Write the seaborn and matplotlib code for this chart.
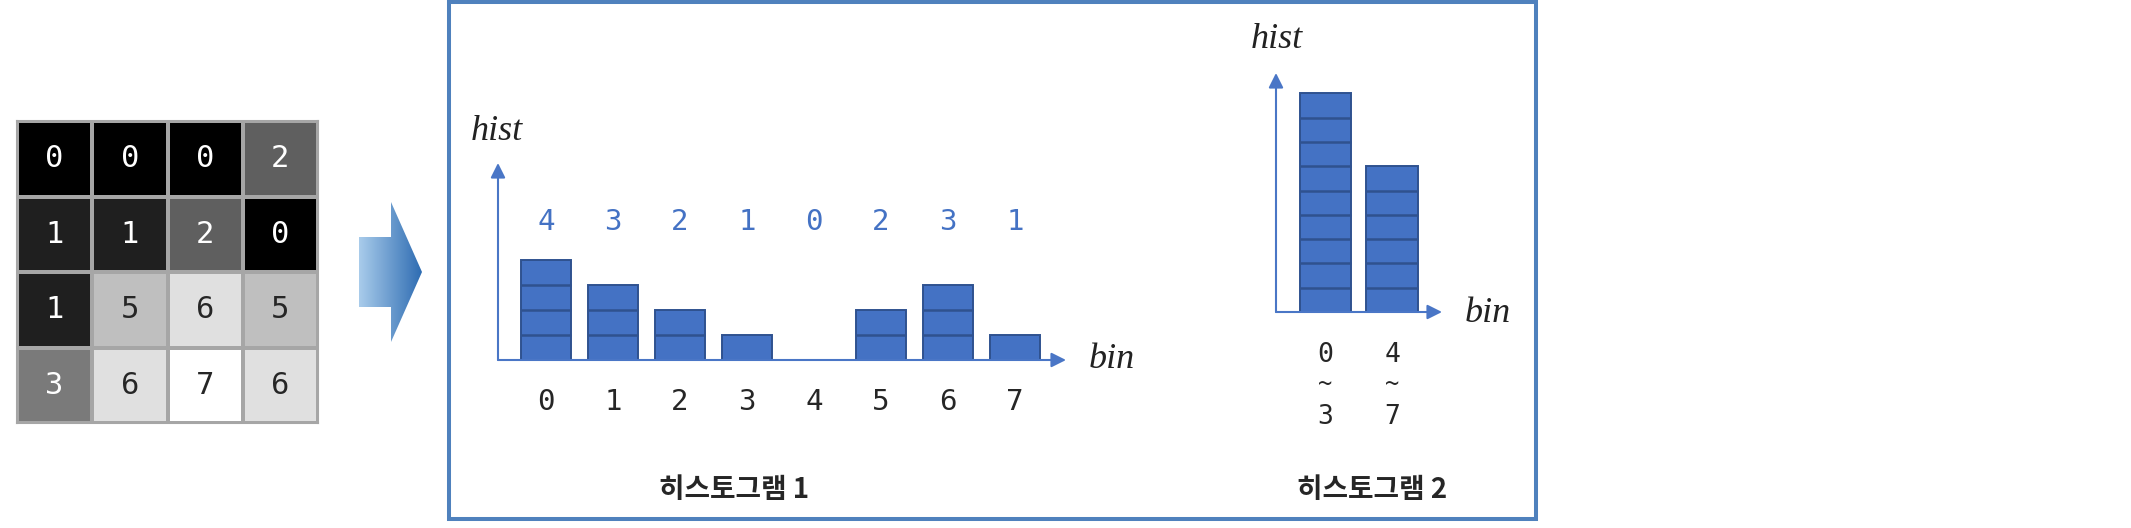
import numpy as np
import pandas as pd
import seaborn as sns
import matplotlib.pyplot as plt
from matplotlib.colors import ListedColormap, LinearSegmentedColormap
from matplotlib.patches import Polygon, Rectangle

# 4x4 image (pixel values 0..7)
pixels = [[0, 0, 0, 2],
          [1, 1, 2, 0],
          [1, 5, 6, 5],
          [3, 6, 7, 6]]
gray_levels = ["#000000", "#1f1f1f", "#5f5f5f", "#7a7a7a",
               "#a0a0a0", "#bfbfbf", "#e0e0e0", "#ffffff"]

# histogram 1 : one bin per value
bins1 = ["0", "1", "2", "3", "4", "5", "6", "7"]
hist1 = [4, 3, 2, 1, 0, 2, 3, 1]

# histogram 2 : two bins (as drawn)
bins2 = ["0~3", "4~7"]
hist2 = [9, 6]

titles = ["히스토그램 1", "히스토그램 2"]

BAR = "#4472c4"
EDGE = "#2f528f"
AXIS = "#4a76c6"
MONO = "DejaVu Sans Mono"
KR = ["Noto Sans CJK KR", "DejaVu Sans"]

W, H = 2131, 528
sns.set_style("white")
fig = plt.figure(figsize=(W / 100, H / 100), dpi=100)


def px_axes(x0, y0, x1, y1):
    return fig.add_axes([x0 / W, 1 - y1 / H, (x1 - x0) / W, (y1 - y0) / H])


# background layer in pixel coords: frame, block arrow, captions
bg = fig.add_axes([0, 0, 1, 1])
bg.add_patch(Rectangle((449, 2), 1086.5, 517, fill=False, ec="#4f81bd", lw=2.9))
arrow = Polygon([(359, 237), (391, 237), (391, 202), (422, 272),
                 (391, 342), (391, 307), (359, 307)], fc="none", ec="none")
bg.add_patch(arrow)
grad = np.linspace(0, 1, 256).reshape(1, -1)
blues = LinearSegmentedColormap.from_list("arr", ["#a9cceb", "#2e6cb2"])
im = bg.imshow(grad, extent=(359, 422, 342, 202), cmap=blues, aspect="auto")
im.set_clip_path(arrow)
bg.set_xlim(0, W)
bg.set_ylim(H, 0)
bg.axis("off")

serif_it = dict(family="Liberation Serif", style="italic", fontsize=26,
                color="#222222", ha="center", va="center")
bg.text(497, 132, "hist", **serif_it)
bg.text(1112, 360, "bin", **serif_it)
bg.text(1277, 40, "hist", **serif_it)
bg.text(1488, 314, "bin", **serif_it)
bg.text(734, 490, titles[0], family=KR, fontweight="bold", fontsize=20,
        ha="center", va="center")
bg.text(1372, 490, titles[1], family=KR, fontweight="bold", fontsize=20,
        ha="center", va="center")

# image grid
ax0 = px_axes(17, 121, 318, 423)
sns.heatmap(pixels, cmap=ListedColormap(gray_levels), vmin=-0.5, vmax=7.5,
            annot=True, fmt="d", cbar=False, linewidths=1.5, linecolor="#a6a6a6",
            annot_kws=dict(fontsize=22, family=MONO),
            xticklabels=False, yticklabels=False, ax=ax0)
for sp in ax0.spines.values():
    sp.set_visible(True)
    sp.set_color("#a6a6a6")
    sp.set_linewidth(1.5)


def draw_hist(ax, bins, counts, xlim, ylim, width):
    df = pd.DataFrame({"bin": bins, "count": counts})
    sns.barplot(data=df, x="bin", y="count", color=BAR, saturation=1,
                width=width, edgecolor=EDGE, linewidth=1.4, ax=ax)
    for i, c in enumerate(counts):
        if c > 1:
            ax.hlines(range(1, c), i - width / 2, i + width / 2, color=EDGE, lw=1.8)
    ax.set_xlim(*xlim)
    ax.set_ylim(*ylim)
    ax.axis("off")
    arr = dict(arrowstyle="-|>", color=AXIS, lw=1.5, mutation_scale=22,
               shrinkA=0, shrinkB=0)
    ax.annotate("", xy=(xlim[1], 0), xytext=(xlim[0], 0), arrowprops=arr,
                annotation_clip=False, zorder=5)
    ax.annotate("", xy=(xlim[0], ylim[1]), xytext=(xlim[0], 0), arrowprops=arr,
                annotation_clip=False, zorder=5)


# histogram 1
ax1 = px_axes(498, 163, 1066, 360)
draw_hist(ax1, bins1, hist1, (-0.716, 7.76), (0, 7.88), 0.75)
for i, (b, c) in enumerate(zip(bins1, hist1)):
    ax1.text(i, 5.52, str(c), color=BAR, fontsize=21, family=MONO,
             ha="center", va="center")
    ax1.annotate(b, xy=(i, 0), xytext=(0, -42), textcoords="offset pixels",
                 fontsize=21, family=MONO, ha="center", va="center")

# histogram 2
ax2 = px_axes(1276, 73, 1442, 312)
draw_hist(ax2, bins2, hist2, (-0.744, 1.75), (0, 9.84), 0.77)
for i, b in enumerate(bins2):
    lo, hi = b.split("~")
    for txt, off, fs in [(lo, -43, 19), ("~", -72, 17), (hi, -105, 19)]:
        ax2.annotate(txt, xy=(i, 0), xytext=(0, off), textcoords="offset pixels",
                     fontsize=fs, family=MONO, ha="center", va="center")

fig.savefig("out.png", dpi=100)
